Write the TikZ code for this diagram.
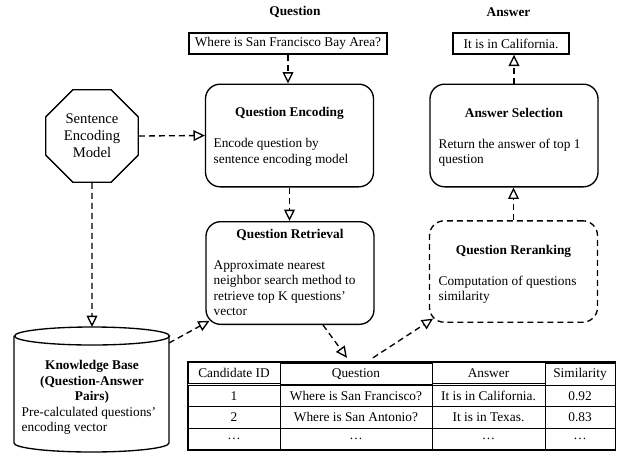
\documentclass[tikz,border=0pt]{standalone}
\usepackage{fontspec}
\setmainfont{Liberation Serif}
\usetikzlibrary{arrows.meta,shapes.geometric,matrix}
\begin{document}
\begin{tikzpicture}[x=0.75pt, y=-0.75pt, line width=1pt,
    every node/.style={font=\fontsize{10}{11.5}\selectfont},
    box/.style={draw, rounded corners=11pt, minimum width=126pt, minimum height=77pt},
    inbox/.style={draw, minimum height=15.75pt, inner sep=0pt},
    title/.style={font=\fontsize{10}{11.5}\selectfont\bfseries},
    body/.style={anchor=north west, align=left, inner sep=0pt},
    dashedline/.style={dash pattern=on 4.5pt off 3pt},
    flow/.style={dash pattern=on 4.5pt off 3pt, -{Triangle[open, length=8.5pt, width=8pt]}}]
  \useasboundingbox (0,0) rectangle (621,454);

  % column headers
  \node[title] (hq) at (295,12) {Question};
  \node[title] (ha) at (508.5,12) {Answer};

  % input and output
  \node[inbox, minimum width=148.5pt] (qin) at (288,43.5) {Where is San Francisco Bay Area?};
  \node[inbox, minimum width=87pt] (ain) at (511,43.5) {It is in California.};

  % encoder
  \node[draw, regular polygon, regular polygon sides=8, minimum size=75pt, inner sep=0pt,
    align=center, font=\fontsize{11}{12.75}\selectfont] (sem) at (92,136) {Sentence\\Encoding\\Model};

  % question side
  \node[box] (qenc) at (289.5,135.5) {};
  \node[title] (qenct) at (289.5,113) {Question Encoding};
  \node[body] (qencb) at (213,138) {Encode question by\\sentence encoding model};

  \node[box] (qret) at (290,273) {};
  \node[title] (qrett) at (290,235) {Question Retrieval};
  \node[body] (qretb) at (213,260) {Approximate nearest\\neighbor search method to\\retrieve top K questions'\\vector};

  % answer side
  \node[box] (asel) at (514,135.5) {};
  \node[title] (aselt) at (514,113) {Answer Selection};
  \node[body] (aselb) at (438,138) {Return the answer of top 1\\question};

  \node[box, dashedline, minimum height=76pt] (rerank) at (513.5,271.5) {};
  \node[title] (rerankt) at (513.5,251) {Question Reranking};
  \node[body] (rerankb) at (438,275) {Computation of questions\\similarity};

  % knowledge base
  \draw (14,336) -- (14,443) arc[start angle=180, end angle=0, x radius=77.5, y radius=9] -- (169,336);
  \draw (92,336) ellipse [x radius=77.5, y radius=9];
  \coordinate (kbtop) at (92,327);
  \coordinate (kbne) at (169,343);
  \node[title, align=center] (kbt) at (92,382) {Knowledge Base\\(Question-Answer\\Pairs)};
  \node[anchor=west, align=left, inner sep=0pt] (kbb) at (21,420.5) {Pre-calculated questions'\\encoding vector};

  % candidates
  \matrix (tab) [matrix of nodes, draw, inner sep=0pt, line width=1.3pt,
    nodes={draw, line width=0.7pt, minimum height=16.1pt, inner sep=0pt},
    column sep=-0.7pt, row sep=-0.7pt,
    column 1/.style={nodes={minimum width=69pt}},
    column 2/.style={nodes={minimum width=114pt}},
    column 3/.style={nodes={minimum width=84.75pt}},
    column 4/.style={nodes={minimum width=52.5pt}}] at (401.5,406) {
    Candidate ID & Question & Answer & Similarity \\
    1 & Where is San Francisco? & It is in California. & 0.92 \\
    2 & Where is San Antonio? & It is in Texas. & 0.83 \\
    \dots & \dots & \dots & \dots \\
  };

  % connectors
  \draw[flow] (qin.south) -- (qin.south |- qenc.north);
  \draw[flow] (sem.east) -- (qenc.west);
  \draw[flow] (qenc.south) -- (qenc.south |- qret.north);
  \draw[flow] (sem.south) -- (kbtop);
  \draw[flow] (kbne) -- ([xshift=3.2pt, yshift=3.2pt]qret.south west);
  \draw[flow] ([xshift=24.75pt]qret.south) -- ([xshift=-40.9pt, yshift=2.25pt]tab.north);
  \draw[flow] ([xshift=-21.4pt, yshift=2.25pt]tab.north) -- ([xshift=3.2pt, yshift=3.2pt]rerank.south west);
  \draw[flow] (rerank.north) -- (rerank.north |- asel.south);
  \draw[flow] (asel.north) -- (asel.north |- ain.south);
\end{tikzpicture}
\end{document}
